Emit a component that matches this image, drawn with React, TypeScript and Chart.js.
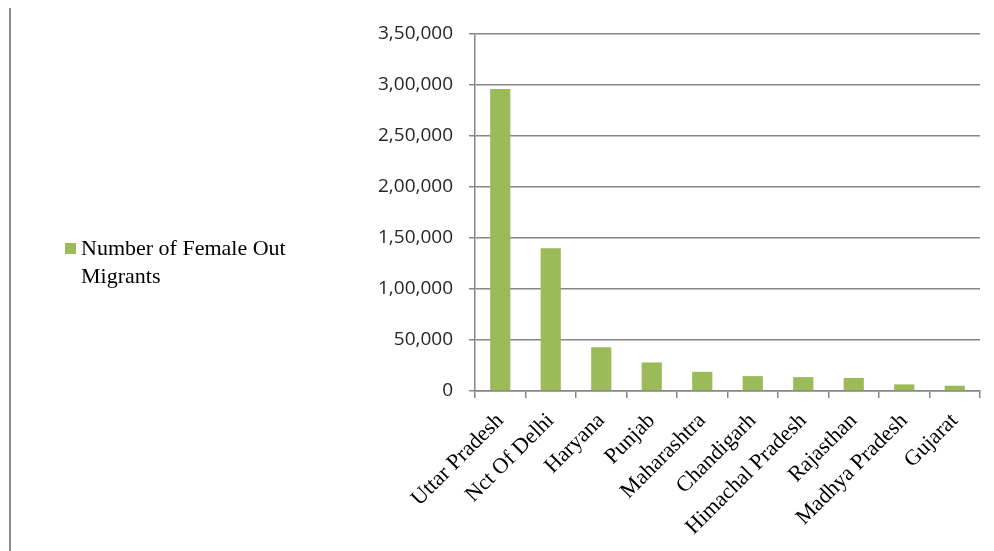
import React, { useEffect, useRef } from "react";
import { Chart, registerables } from "chart.js";

Chart.register(...registerables);

const categories = [
  "Uttar Pradesh",
  "Nct Of Delhi",
  "Haryana",
  "Punjab",
  "Maharashtra",
  "Chandigarh",
  "Himachal Pradesh",
  "Rajasthan",
  "Madhya Pradesh",
  "Gujarat",
];
const femaleOutMigrants = [296000, 140000, 43000, 28000, 18800, 14600, 13600, 12700, 6500, 5200];
const seriesLabel = "Number of Female Out Migrants";
const legendLines = ["Number of Female Out", "Migrants"];
const yMin = 0;
const yMax = 350000;
const yStep = 50000;

const BAR_COLOR = "#9BBB59";
const GRID_COLOR = "#868686";

function formatIndian(v: number): string {
  const s = String(Math.round(v));
  if (s.length <= 3) return s;
  const last3 = s.slice(-3);
  let rest = s.slice(0, -3);
  const parts: string[] = [];
  while (rest.length > 2) {
    parts.unshift(rest.slice(-2));
    rest = rest.slice(0, -2);
  }
  if (rest.length) parts.unshift(rest);
  return parts.join(",") + "," + last3;
}

const sidePlugin = {
  id: "sideDecor",
  afterDraw(chart: any) {
    const ctx = chart.ctx as CanvasRenderingContext2D;
    ctx.save();
    ctx.strokeStyle = "#8c8c8c";
    ctx.lineWidth = 2;
    ctx.beginPath();
    ctx.moveTo(10, 8);
    ctx.lineTo(10, 551);
    ctx.stroke();
    ctx.fillStyle = BAR_COLOR;
    ctx.fillRect(65, 243, 11, 11);
    ctx.fillStyle = "#000";
    ctx.font = '22px "Liberation Serif"';
    ctx.textBaseline = "middle";
    ctx.textAlign = "left";
    legendLines.forEach((line, i) => ctx.fillText(line, 81, 249 + i * 28));
    ctx.restore();
  },
};

export default function App() {
  const ref = useRef<HTMLCanvasElement | null>(null);
  useEffect(() => {
    if (!ref.current) return;
    const chart = new Chart(ref.current, {
      type: "bar",
      data: {
        labels: categories,
        datasets: [
          {
            label: seriesLabel,
            data: femaleOutMigrants,
            backgroundColor: BAR_COLOR,
            barPercentage: 0.4,
            categoryPercentage: 1,
          },
        ],
      },
      options: {
        responsive: false,
        animation: false,
        layout: { padding: { top: 34, right: 14, left: 0, bottom: 0 } },
        plugins: { legend: { display: false }, tooltip: { enabled: false } },
        scales: {
          x: {
            grid: {
              offset: true,
              drawOnChartArea: false,
              drawTicks: true,
              tickLength: 7,
              color: GRID_COLOR,
              lineWidth: 1.5,
            },
            border: { color: GRID_COLOR, width: 1.5 },
            ticks: {
              minRotation: 45,
              maxRotation: 45,
              autoSkip: false,
              padding: 10,
              color: "#000",
              font: { family: '"Liberation Serif"', size: 22 },
            },
            afterFit(scale: any) {
              scale.height = 160;
            },
          },
          y: {
            min: yMin,
            max: yMax,
            grid: { color: GRID_COLOR, lineWidth: 1.5, tickLength: 6 },
            border: { color: GRID_COLOR, width: 1.5 },
            ticks: {
              stepSize: yStep,
              padding: 16,
              color: "#262626",
              font: { family: '"Open Sans"', size: 19 },
              callback: (v: any) => formatIndian(Number(v)),
            },
            afterFit(scale: any) {
              scale.width = 475;
            },
          },
        },
      },
      plugins: [sidePlugin],
    });
    return () => chart.destroy();
  }, []);
  return (
    <div style={{ position: "fixed", left: 0, top: 0, width: 994, height: 551, background: "#fff" }}>
      <canvas ref={ref} width={994} height={551} style={{ display: "block" }} />
    </div>
  );
}
